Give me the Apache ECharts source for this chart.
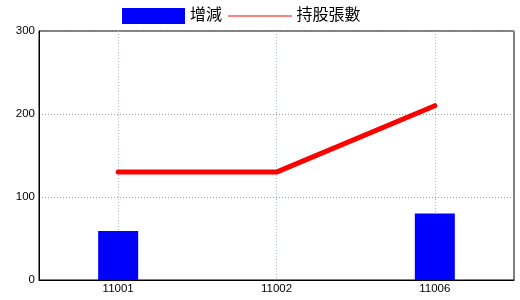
<!DOCTYPE html>
<html><head><meta charset="utf-8">
<script src="https://cdn.jsdelivr.net/npm/echarts@6/dist/echarts.min.js"></script>
<style>html,body{margin:0;padding:0;background:#fff}#c{width:520px;height:300px}</style>
</head><body><div id="c"></div>
<script>
const categories = ['11001', '11002', '11006'];
const changeValues = [59, 0, 80];
const holdingValues = [130, 130, 210];
const yTicks = [0, 100, 200, 300];
const seriesNames = ['增減', '持股張數'];

const chart = echarts.init(document.getElementById('c'), null, {renderer: 'canvas'});
const font = '"Liberation Sans", "Noto Sans CJK TC", sans-serif';
chart.setOption({
  animation: false,
  backgroundColor: '#fff',
  textStyle: {fontFamily: font},
  legend: {
    left: 122, top: 8, padding: 0, itemWidth: 63, itemHeight: 16, itemGap: 6,
    textStyle: {fontSize: 16, color: '#000', fontFamily: font},
    data: [
      {name: seriesNames[0], icon: 'rect'},
      {name: seriesNames[1], itemStyle: {opacity: 0}, lineStyle: {width: 1, color: '#ff0000', opacity: 1}}
    ],
    lineStyle: {width: 1}
  },
  grid: {left: 39, right: 6, top: 31, bottom: 20, show: true, borderColor: '#000', borderWidth: 1, backgroundColor: 'transparent'},
  xAxis: {
    type: 'category', data: categories, boundaryGap: true,
    axisLine: {lineStyle: {color: '#000'}},
    axisTick: {show: false},
    axisLabel: {color: '#000', fontSize: 11.5, margin: 3},
    splitLine: {show: true, alignWithLabel: true, lineStyle: {color: '#a3b8c8', type: [1, 2]}}
  },
  yAxis: {
    type: 'value', min: 0, max: 300, interval: 100,
    axisLine: {show: true, lineStyle: {color: '#000'}},
    axisTick: {show: false},
    axisLabel: {color: '#000', fontSize: 11.5, margin: 4,
      formatter: v => yTicks.includes(v) ? String(v) : ''},
    splitLine: {show: true, lineStyle: {color: '#999', type: [1, 2]}}
  },
  series: [
    {name: seriesNames[0], type: 'bar', data: changeValues, barWidth: 40, itemStyle: {color: '#0000ff'}},
    {name: seriesNames[1], type: 'line', data: holdingValues, symbol: 'none', color: '#ff0000',
      lineStyle: {color: '#ff0000', width: 5, cap: 'round', join: 'round'}}
  ]
});
</script></body></html>
